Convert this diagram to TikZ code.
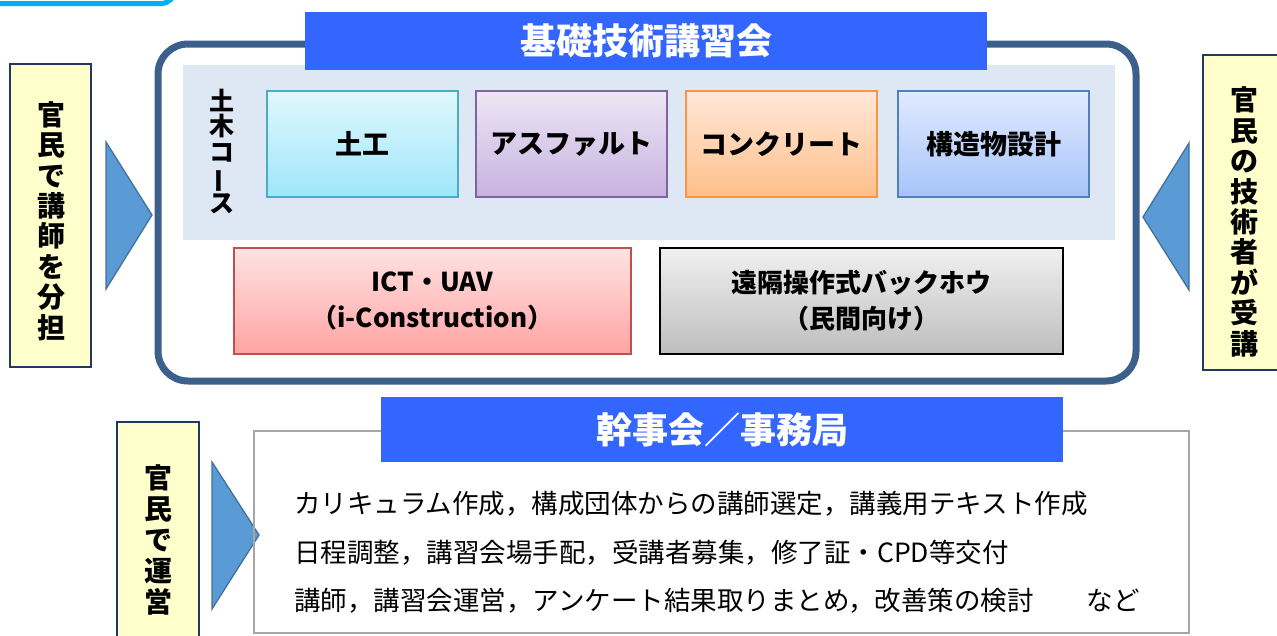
\documentclass[tikz,border=0pt]{standalone}
\usepackage{fontspec}
\usepackage{graphicx}
\setmainfont{Noto Sans CJK JP}
\definecolor{barblue}{HTML}{3366FF}
\definecolor{framecol}{HTML}{3C5F8C}
\definecolor{panelcol}{HTML}{DDE8F4}
\definecolor{yellowbg}{HTML}{FFFFCC}
\definecolor{navyline}{HTML}{1F3864}
\definecolor{trifill}{HTML}{5B9BD5}
\definecolor{triline}{HTML}{41719C}
\definecolor{topcyan}{HTML}{00B0F0}
\definecolor{grayline}{HTML}{A6A6A6}
\definecolor{dokoline}{HTML}{4BACC6}
\definecolor{dokotop}{HTML}{E0F8FD}
\definecolor{dokobot}{HTML}{9FE6FA}
\definecolor{asphline}{HTML}{8064A2}
\definecolor{asphtop}{HTML}{EEE6F4}
\definecolor{asphbot}{HTML}{C7B2E0}
\definecolor{concline}{HTML}{F79646}
\definecolor{conctop}{HTML}{FFE8D8}
\definecolor{concbot}{HTML}{FFBF8A}
\definecolor{strline}{HTML}{4F81BD}
\definecolor{strtop}{HTML}{E2EAFF}
\definecolor{strbot}{HTML}{A6C4FA}
\definecolor{ictline}{HTML}{C0504D}
\definecolor{icttop}{HTML}{FFE2E2}
\definecolor{ictbot}{HTML}{FFA3A3}
\definecolor{remtop}{HTML}{F0F0F0}
\definecolor{rembot}{HTML}{BEBEBE}
\tikzset{
  yellowbox/.style={draw=navyline, fill=yellowbg, line width=1.5pt, inner sep=0pt},
  vtext/.style={align=center, inner sep=0pt, font=\fontsize{28}{30.4}\selectfont\bfseries},
  arrowtri/.style={fill=trifill, draw=triline, line width=1.3pt, line join=miter},
  course/.style={line width=1.5pt, inner sep=0pt, minimum width=191pt, minimum height=106pt,
    font=\fontsize{27}{30}\selectfont\bfseries},
  widebox/.style={line width=1.5pt, inner sep=0pt, minimum height=106pt, align=center,
    font=\fontsize{26}{36}\selectfont\bfseries},
  bar/.style={fill=barblue, text=white, inner sep=0pt, font=\fontsize{36}{40}\selectfont\bfseries},
  bodyline/.style={anchor=base west, inner sep=0pt, font=\fontsize{26.5}{30}\selectfont}
}
\begin{document}
\begin{tikzpicture}[x=1pt,y=-1pt]
\useasboundingbox (0,0) rectangle (1277,635);
\begin{scope}
\clip (0,0) rectangle (1277,635);
% top-left partial frame
\draw[topcyan, line width=5pt, rounded corners=14pt] (-40,-60) rectangle (175,3.5);
% left side
\node[yellowbox, minimum width=81pt, minimum height=303pt] (leftbox) at (50.5,215.5) {};
\node[vtext] (lefttext) at (51,221) {官\\民\\で\\講\\師\\を\\分\\担};
\filldraw[arrowtri] (106,142) -- (152,215) -- (106,289) -- cycle;
% right side
\node[yellowbox, minimum width=80pt, minimum height=315pt] (rightbox) at (1243,212.5) {};
\node[vtext] (righttext) at (1244,222) {官\\民\\の\\技\\術\\者\\が\\受\\講};
\filldraw[arrowtri] (1189,143) -- (1143,217) -- (1189,290) -- cycle;
% main frame
\node[draw=framecol, line width=7pt, rounded corners=30pt, minimum width=978pt, minimum height=337pt, inner sep=0pt] (mainframe) at (647,212.5) {};
\node[fill=panelcol, minimum width=932pt, minimum height=175pt, inner sep=0pt] (panel) at (649,152.5) {};
\node[bar, minimum width=682pt, minimum height=58pt] (title) at (646,41) {基礎技術講習会};
\node[align=center, inner sep=0pt, font=\fontsize{25}{25.5}\selectfont\bfseries] (civil) at (222,151)
  {土\\木\\コ\\\rotatebox[origin=c]{90}{ー}\\ス};
% course boxes
\node[course, draw=dokoline, top color=dokotop, bottom color=dokobot] (doko) at (362.5,144) {土工};
\node[course, draw=asphline, top color=asphtop, bottom color=asphbot] (asph) at (571.5,144) {アスファルト};
\node[course, draw=concline, top color=conctop, bottom color=concbot] (conc) at (781.5,144) {コンクリート};
\node[course, draw=strline, top color=strtop, bottom color=strbot] (struct) at (993.5,144) {構造物設計};
\node[widebox, draw=ictline, top color=icttop, bottom color=ictbot, minimum width=397pt] (ict) at (432.5,301) {ICT・UAV\\（i-Construction）};
\node[widebox, draw=black, top color=remtop, bottom color=rembot, minimum width=403pt] (remote) at (861.5,301) {遠隔操作式バックホウ\\（民間向け）};
% bottom section
\node[yellowbox, minimum width=82pt, minimum height=240pt] (botbox) at (158,542) {};
\node[vtext, font=\fontsize{28}{31}\selectfont\bfseries] (bottext) at (158,540) {官\\民\\で\\運\\営};
\filldraw[arrowtri] (212,462) -- (259,535) -- (212,609) -- cycle;
\node[draw=grayline, line width=2.5pt, minimum width=935pt, minimum height=202pt, inner sep=0pt] (office) at (721.5,532) {};
\node[bar, minimum width=682pt, minimum height=65pt] (kanji) at (722,429.5) {幹事会／事務局};
\node[bodyline] (line1) at (294,513) {カリキュラム作成，構成団体からの講師選定，講義用テキスト作成};
\node[bodyline] (line2) at (294,562) {日程調整，講習会場手配，受講者募集，修了証・CPD等交付};
\node[bodyline] (line3) at (294,610) {講師，講習会運営，アンケート結果取りまとめ，改善策の検討　　など};
\end{scope}
\end{tikzpicture}
\end{document}
